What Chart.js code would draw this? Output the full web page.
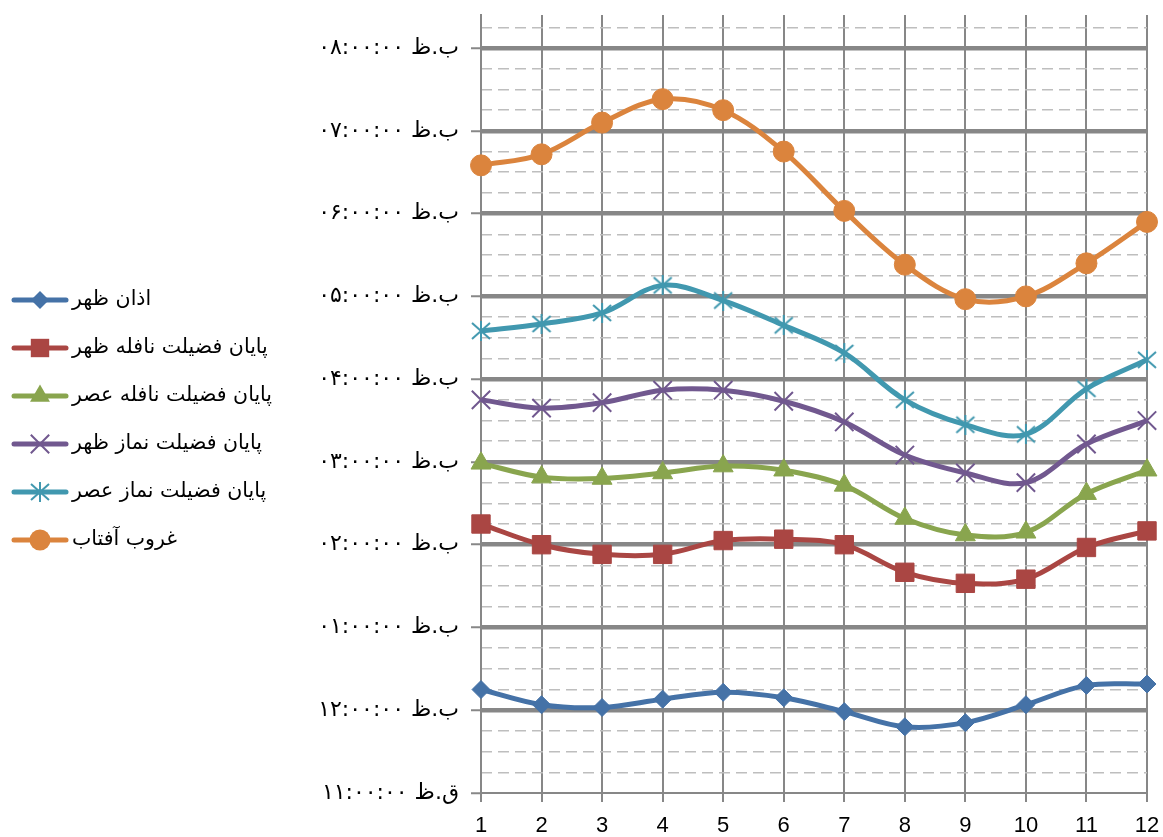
<!DOCTYPE html>
<html>
<head>
<meta charset="utf-8">
<script src="https://cdn.jsdelivr.net/npm/chart.js@4/dist/chart.umd.min.js"></script>
<style>
  html, body { margin: 0; padding: 0; background: #ffffff; }
  #wrap { width: 1163px; height: 837px; }
</style>
</head>
<body>
<div id="wrap"><canvas id="c" width="1163" height="837"></canvas></div>
<script>
// Months of the year (x axis)
const months = ['1', '2', '3', '4', '5', '6', '7', '8', '9', '10', '11', '12'];

// Series names
const seriesNames = [
  'اذان ظهر',
  'پایان فضیلت نافله ظهر',
  'پایان فضیلت نافله عصر',
  'پایان فضیلت نماز ظهر',
  'پایان فضیلت نماز عصر',
  'غروب آفتاب'
];

// Times per month (HH:MM, 24h clock)
const azanZohr    = ['12:15', '12:04', '12:02', '12:08', '12:13', '12:09', '11:59', '11:48', '11:51', '12:04', '12:18', '12:19'];
const nafeleZohr  = ['14:15', '14:00', '13:53', '13:53', '14:03', '14:04', '14:00', '13:40', '13:32', '13:35', '13:58', '14:10'];
const nafeleAsr   = ['14:59', '14:49', '14:48', '14:52', '14:57', '14:54', '14:43', '14:19', '14:07', '14:09', '14:37', '14:54'];
const namazZohr   = ['15:45', '15:39', '15:43', '15:52', '15:52', '15:44', '15:29', '15:05', '14:52', '14:45', '15:13', '15:30'];
const namazAsr    = ['16:35', '16:40', '16:48', '17:08', '16:57', '16:39', '16:19', '15:45', '15:27', '15:20', '15:53', '16:14'];
const ghorub      = ['18:35', '18:43', '19:06', '19:23', '19:15', '18:45', '18:02', '17:23', '16:58', '17:00', '17:24', '17:54'];

// Hour ticks on the value axis and their labels
const hourTicks = [11, 12, 13, 14, 15, 16, 17, 18, 19, 20];
const hourTickLabels = [
  'ق.ظ ۱۱:۰۰:۰۰',
  'ب.ظ ۱۲:۰۰:۰۰',
  'ب.ظ ۰۱:۰۰:۰۰',
  'ب.ظ ۰۲:۰۰:۰۰',
  'ب.ظ ۰۳:۰۰:۰۰',
  'ب.ظ ۰۴:۰۰:۰۰',
  'ب.ظ ۰۵:۰۰:۰۰',
  'ب.ظ ۰۶:۰۰:۰۰',
  'ب.ظ ۰۷:۰۰:۰۰',
  'ب.ظ ۰۸:۰۰:۰۰'
];
const axisMin = 11;
const axisMax = 20.4;

// "HH:MM" -> decimal hours
function toHours(t) {
  const [h, m] = t.split(':').map(Number);
  return h + m / 60;
}

// Asterisk marker (X with a vertical stroke)
function makeStar(color) {
  const c = document.createElement('canvas');
  c.width = 22; c.height = 20;
  const g = c.getContext('2d');
  g.strokeStyle = color;
  g.lineWidth = 2;
  g.beginPath();
  g.moveTo(2, 2); g.lineTo(20, 18);
  g.moveTo(20, 2); g.lineTo(2, 18);
  g.moveTo(11, 0); g.lineTo(11, 20);
  g.stroke();
  return c;
}

const colors = ['#4572A7', '#AA4643', '#89A54E', '#71588F', '#4198AF', '#DB843D'];
const starImg = makeStar(colors[4]);

const seriesValues = [azanZohr, nafeleZohr, nafeleAsr, namazZohr, namazAsr, ghorub];
const markerStyles = ['rectRot', 'rect', 'triangle', 'crossRot', starImg, 'circle'];
const markerRadius = [9, 13, 11.5, 13, 10, 10.5];

const datasets = seriesNames.map((name, i) => {
  const filled = !(i === 3 || i === 4);
  return {
    label: name,
    data: seriesValues[i].map(toHours),
    borderColor: colors[i],
    backgroundColor: colors[i],
    borderWidth: 5,
    tension: 0.35,
    fill: false,
    pointStyle: markerStyles[i],
    pointRadius: markerRadius[i],
    pointHoverRadius: markerRadius[i],
    pointBackgroundColor: colors[i],
    pointBorderColor: colors[i],
    pointBorderWidth: filled ? 1 : 2,
    yAxisID: 'y'
  };
});

// Legend on the left: line sample with marker, then the series name
function drawLegendMarker(ctx, style, x, y, r, color, bw) {
  ctx.save();
  ctx.fillStyle = color;
  ctx.strokeStyle = color;
  ctx.lineWidth = bw;
  ctx.beginPath();
  if (typeof style !== 'string') {
    ctx.drawImage(style, x - style.width / 2, y - style.height / 2);
  } else if (style === 'rectRot') {
    ctx.moveTo(x - r, y); ctx.lineTo(x, y - r); ctx.lineTo(x + r, y); ctx.lineTo(x, y + r);
    ctx.closePath(); ctx.fill();
  } else if (style === 'rect') {
    const s = Math.SQRT1_2 * r;
    ctx.rect(x - s, y - s, 2 * s, 2 * s); ctx.fill();
  } else if (style === 'triangle') {
    for (let k = 0; k < 3; k++) {
      const a = k * 2 * Math.PI / 3;
      const px = x + Math.sin(a) * r, py = y - Math.cos(a) * r;
      if (k === 0) ctx.moveTo(px, py); else ctx.lineTo(px, py);
    }
    ctx.closePath(); ctx.fill();
  } else if (style === 'crossRot') {
    const s = Math.SQRT1_2 * r;
    ctx.moveTo(x - s, y - s); ctx.lineTo(x + s, y + s);
    ctx.moveTo(x + s, y - s); ctx.lineTo(x - s, y + s);
    ctx.stroke();
  } else if (style === 'circle') {
    ctx.arc(x, y, r, 0, Math.PI * 2); ctx.fill();
  }
  ctx.restore();
}

const sideLegend = {
  id: 'sideLegend',
  afterDraw(chart) {
    const ctx = chart.ctx;
    const n = chart.data.datasets.length;
    const rowGap = 48;
    const y0 = chart.height / 2 - (n - 1) * rowGap / 2 + 1.5;
    chart.data.datasets.forEach((ds, i) => {
      const y = y0 + i * rowGap;
      ctx.save();
      ctx.strokeStyle = ds.borderColor;
      ctx.lineWidth = 5;
      ctx.lineCap = 'round';
      ctx.beginPath();
      ctx.moveTo(14, y); ctx.lineTo(66, y);
      ctx.stroke();
      ctx.restore();
      drawLegendMarker(ctx, ds.pointStyle, 40, y, ds.pointRadius, ds.pointBackgroundColor, ds.pointBorderWidth);
      ctx.save();
      ctx.fillStyle = '#000000';
      ctx.font = '20.5px "DejaVu Sans", sans-serif';
      ctx.textAlign = 'left';
      ctx.textBaseline = 'middle';
      ctx.fillText(ds.label, 72, y);
      ctx.restore();
    });
  }
};

const gridDark = '#878787';
const gridLight = '#BEBEBE';

// Keep the plot edges where the layout padding puts them
function noEdgePadding(scale) {
  scale.paddingTop = 0;
  scale.paddingBottom = 0;
  scale.paddingLeft = 0;
  scale.paddingRight = 0;
}

new Chart(document.getElementById('c'), {
  type: 'line',
  data: { labels: months, datasets },
  options: {
    responsive: false,
    animation: false,
    devicePixelRatio: 1,
    layout: { padding: { left: 0, right: 16, top: 12, bottom: 0 } },
    plugins: {
      legend: { display: false },
      tooltip: { enabled: false }
    },
    scales: {
      x: {
        type: 'category',
        offset: false,
        grid: {
          color: gridDark,
          lineWidth: 2,
          offset: false,
          tickLength: 9,
          tickWidth: 2,
          tickColor: gridDark
        },
        border: { display: true, color: gridDark, width: 2 },
        ticks: {
          color: '#000000',
          font: { family: '"Liberation Sans", Arial, sans-serif', size: 22 },
          padding: 11,
          maxRotation: 0,
          autoSkip: false
        },
        afterFit(scale) { noEdgePadding(scale); scale.height = 44; }
      },
      yMinor: {
        type: 'linear',
        position: 'right',
        min: axisMin,
        max: axisMax,
        ticks: { display: false, stepSize: 0.25, includeBounds: false },
        grid: {
          drawTicks: false,
          lineWidth: 1.6,
          color: (c) => (c.tick && Number.isInteger(c.tick.value)) ? 'rgba(0,0,0,0)' : gridLight
        },
        border: { display: false, dash: [11, 6] },
        afterFit(scale) { noEdgePadding(scale); scale.width = 0; }
      },
      y: {
        type: 'linear',
        position: 'left',
        min: axisMin,
        max: axisMax,
        afterBuildTicks(scale) {
          scale.ticks = hourTicks.map(v => ({ value: v }));
        },
        ticks: {
          color: '#000000',
          font: { family: '"DejaVu Sans", sans-serif', size: 22 },
          padding: 12,
          callback: (value, index) => hourTickLabels[index]
        },
        grid: {
          lineWidth: 4.5,
          color: (c) => (c.tick && c.tick.value === axisMin) ? 'rgba(0,0,0,0)' : gridDark,
          tickLength: 10,
          tickWidth: 2,
          tickColor: gridDark
        },
        border: { display: true, color: gridDark, width: 2 },
        afterFit(scale) { noEdgePadding(scale); scale.width = 481; }
      }
    }
  },
  plugins: [sideLegend]
});
</script>
</body>
</html>
